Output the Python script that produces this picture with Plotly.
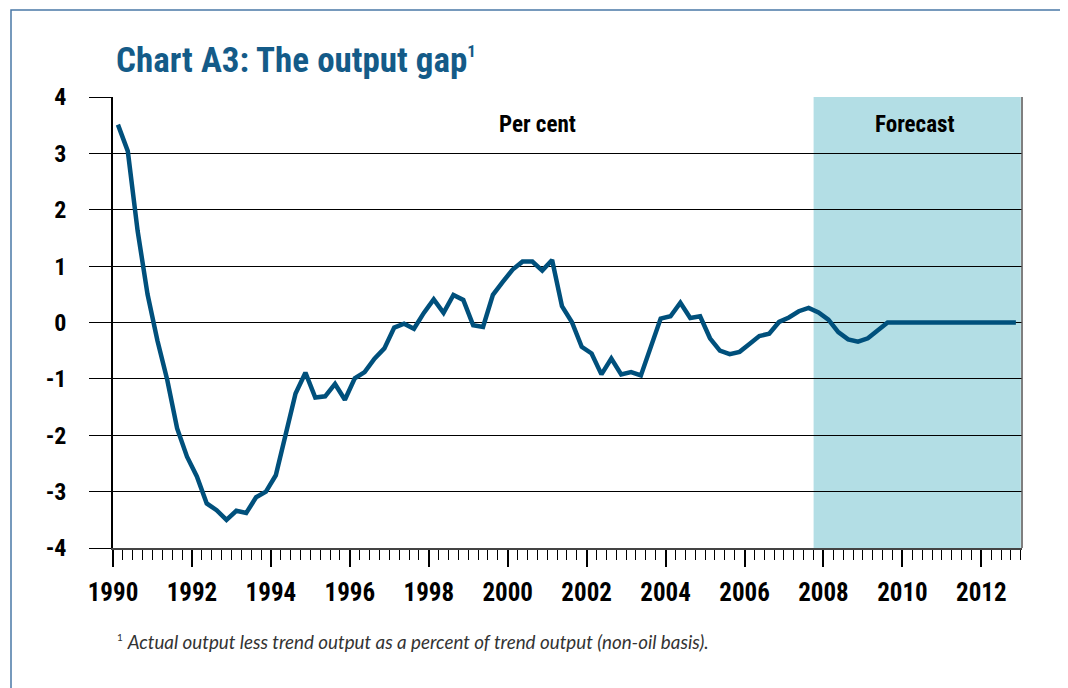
import plotly.graph_objects as go

# ---- Data (quarterly, 1990Q1 - 2012Q4) ----
start_year = 1990
end_year = 2012
quarters = [f"{y}Q{q}" for y in range(start_year, end_year + 1) for q in range(1, 5)]

output_gap = [
    3.51, 3.04, 1.62, 0.50, -0.32, -1.02, -1.88, -2.38,      # 1990-1991
    -2.73, -3.21, -3.33, -3.50, -3.34, -3.38, -3.10, -3.00,  # 1992-1993
    -2.71, -2.00, -1.26, -0.89, -1.33, -1.31, -1.09, -1.37,  # 1994-1995
    -0.99, -0.88, -0.64, -0.46, -0.09, -0.02, -0.11, 0.17,   # 1996-1997
    0.41, 0.17, 0.49, 0.40, -0.05, -0.08, 0.49, 0.72,        # 1998-1999
    0.94, 1.08, 1.08, 0.92, 1.11, 0.29, 0.01, -0.43,         # 2000-2001
    -0.55, -0.92, -0.64, -0.92, -0.88, -0.94, -0.46, 0.07,   # 2002-2003
    0.11, 0.35, 0.08, 0.11, -0.28, -0.50, -0.56, -0.52,      # 2004-2005
    -0.38, -0.24, -0.20, 0.01, 0.09, 0.20, 0.26, 0.18,       # 2006-2007
    0.05, -0.17, -0.30, -0.34, -0.28, -0.14, 0.00, 0.00,     # 2008-2009
    0.00, 0.00, 0.00, 0.00, 0.00, 0.00, 0.00, 0.00,          # 2010-2011
    0.00, 0.00, 0.00, 0.00,                                  # 2012
]

x_tick_vals = [1990, 1992, 1994, 1996, 1998, 2000, 2002, 2004, 2006, 2008, 2010, 2012]
x_tick_text = ["1990", "1992", "1994", "1996", "1998", "2000", "2002", "2004",
               "2006", "2008", "2010", "2012"]
y_tick_vals = [-4, -3, -2, -1, 0, 1, 2, 3, 4]
y_tick_text = ["-4", "-3", "-2", "-1", "0", "1", "2", "3", "4"]

forecast_start = 2007.75
forecast_end = 2013.0

# quarter label -> mid-quarter position on a continuous year axis
def quarter_pos(label):
    y, q = label.split("Q")
    return int(y) + (int(q) - 0.5) / 4.0

x_pos = [quarter_pos(q) for q in quarters]

BOLD_FONT = "Roboto Condensed, Roboto, Liberation Sans Narrow, sans-serif"
LINE_COLOR = "#00507c"
TITLE_COLOR = "#145b88"

# the page body adds an 8px offset; work in reference (window) pixels
OFF = 8
W, H = 1068 - OFF, 688 - OFF
L, T = 113 - OFF, 97 - OFF
PW, PH = 909, 451
R = W - L - PW
B = H - T - PH

def px_x(px):
    return (px - OFF - L) / PW

def px_y(py):
    return (T + PH - (py - OFF)) / PH

fig = go.Figure()

fig.add_trace(go.Scatter(
    x=x_pos, y=output_gap, mode="lines",
    line=dict(color=LINE_COLOR, width=4.5),
    hoverinfo="skip", showlegend=False,
))

shapes = [
    # forecast shading
    dict(type="rect", xref="x", yref="y", x0=forecast_start, x1=forecast_end,
         y0=-4, y1=4, fillcolor="#b3dee5", line=dict(width=0), layer="below"),
    # right border of the plot area
    dict(type="line", xref="paper", yref="paper", x0=1, x1=1, y0=0, y1=1,
         line=dict(color="#555555", width=1.5)),
    # outer frame
    dict(type="rect", xref="paper", yref="paper",
         x0=px_x(11), x1=px_x(1068 + 30), y0=px_y(688 + 30), y1=px_y(10),
         line=dict(color="#4a78a6", width=1.5), fillcolor="rgba(0,0,0,0)"),
]

annotations = [
    dict(text="Chart A3: The output gap<sup><span style=\"font-size:17px\">1</span></sup>",
         xref="paper", yref="paper",
         x=px_x(114), y=px_y(61), xanchor="left", yanchor="middle", showarrow=False,
         font=dict(family=BOLD_FONT, size=35, color=TITLE_COLOR, weight="bold")),
    dict(text="<b>Per cent</b>", xref="x", yref="y", x=2000.76, y=3.52,
         xanchor="center", yanchor="middle", showarrow=False,
         font=dict(family=BOLD_FONT, size=23, color="black")),
    dict(text="<b>Forecast</b>", xref="x", yref="y", x=2010.3, y=3.52,
         xanchor="center", yanchor="middle", showarrow=False,
         font=dict(family=BOLD_FONT, size=23, color="black")),
    dict(text="<sup><span style=\"font-size:10px\">1</span></sup> <i>Actual output less trend output as a percent of trend output (non-oil basis).</i>",
         xref="paper", yref="paper", x=px_x(115), y=px_y(641),
         xanchor="left", yanchor="middle", showarrow=False,
         font=dict(family="Lato, Open Sans, sans-serif", size=18.8, color="#333333")),
]

fig.update_layout(
    width=W, height=H,
    margin=dict(l=L, r=R, t=T, b=B),
    paper_bgcolor="white", plot_bgcolor="white",
    shapes=shapes, annotations=annotations,
    showlegend=False,
    xaxis=dict(
        range=[1990, 2013.03], showgrid=False, zeroline=False,
        showline=True, linecolor="#444444", linewidth=1.5,
        tickmode="array", tickvals=x_tick_vals, ticktext=x_tick_text,
        ticks="outside", ticklen=17, tickwidth=1.5, tickcolor="black",
        ticklabelstandoff=4,
        tickfont=dict(family=BOLD_FONT, size=25, color="black", weight="bold"),
        minor=dict(tick0=1990, dtick=0.25, ticks="outside", ticklen=10,
                   tickwidth=1, tickcolor="black", showgrid=False),
    ),
    yaxis=dict(
        range=[-4, 4], showgrid=True, gridcolor="black", gridwidth=1,
        zeroline=False, showline=True, linecolor="black", linewidth=1.5,
        tickmode="array", tickvals=y_tick_vals, ticktext=y_tick_text,
        ticks="outside", ticklen=22, tickwidth=1, tickcolor="black",
        ticklabelstandoff=18,
        tickfont=dict(family=BOLD_FONT, size=24, color="black", weight="bold"),
    ),
)

fig.write_html("out.html")
